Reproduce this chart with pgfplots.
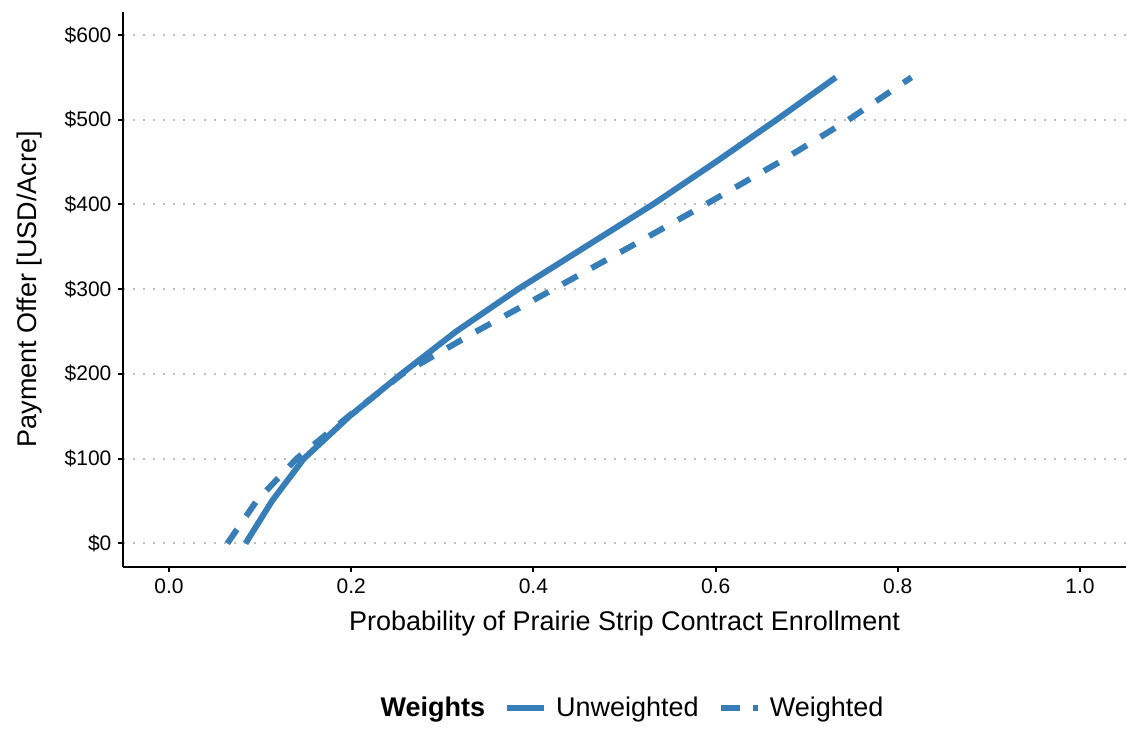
\documentclass[border=0pt]{standalone}
\usepackage{pgfplots}
\pgfplotsset{compat=1.18}
\usepackage{fontspec}
\setmainfont{Liberation Sans}
\definecolor{lineblue}{HTML}{377EB8}
\begin{document}
\begin{tikzpicture}
\begin{axis}[name=ax, scale only axis, width=501pt, height=277.5pt,
  xmin=-0.05, xmax=1.05, ymin=-27.5, ymax=627.5,
  axis x line*=bottom, axis y line*=left,
  axis line style={line width=1pt, black},
  xtick={0,0.2,0.4,0.6,0.8,1.0},
  xticklabels={0.0,0.2,0.4,0.6,0.8,1.0},
  ytick={0,100,200,300,400,500,600},
  yticklabels={\$0,\$100,\$200,\$300,\$400,\$500,\$600},
  tick align=outside, major tick length=2.5pt,
  tick style={line width=1pt, black},
  ymajorgrids,
  grid style={line width=1pt, gray!50, dash pattern=on 1pt off 4pt},
  ticklabel style={font=\fontsize{10.5}{12}\selectfont, text=black},
  xlabel={Probability of Prairie Strip Contract Enrollment},
  ylabel={Payment Offer [USD/Acre]},
  label style={font=\fontsize{13.5}{16}\selectfont},
  xlabel style={at={(axis description cs:0.5,-0.1022)}, anchor=center},
  ylabel style={at={(axis description cs:-0.0933,0.5)}, anchor=center},
  legend style={at={(axis description cs:0.503,-0.2553)}, anchor=center,
    draw=none, fill=none, font=\fontsize{13.5}{16}\selectfont,
    nodes={inner xsep=0pt},
    /tikz/every odd column/.style={column sep=4.5pt},
    /tikz/every even column/.style={column sep=9.5pt}},
  legend columns=-1,
]
\addlegendimage{empty legend}
\addlegendentry{\textbf{Weights}}
\addlegendimage{legend image code/.code={\draw[lineblue, line width=3pt] (0pt,0pt) -- (18.5pt,0pt);}}
\addlegendentry{Unweighted}
\addlegendimage{legend image code/.code={\draw[lineblue, line width=3pt, dash pattern=on 9.5pt off 6.5pt] (0pt,0pt) -- (18.5pt,0pt);}}
\addlegendentry{Weighted}

\addplot[forget plot, lineblue, line width=3pt] coordinates {
(0.084,0) (0.113,50) (0.148,100) (0.198,150) (0.255,200) (0.315,250)
(0.383,300) (0.457,350) (0.531,400) (0.600,450) (0.667,500) (0.732,550)};
\addplot[forget plot, lineblue, line width=3pt, dash pattern=on 8.5pt off 8pt] coordinates {
(0.064,0) (0.096,50) (0.140,100) (0.197,150) (0.256,200) (0.337,250)
(0.422,300) (0.506,350) (0.589,400) (0.670,450) (0.746,500) (0.815,550)};
\end{axis}
\pgfresetboundingbox
\path[use as bounding box] ([xshift=-61.75pt, yshift=-80.85pt]ax.south west) rectangle ([xshift=0.75pt, yshift=5.85pt]ax.north east);
\end{tikzpicture}
\end{document}
